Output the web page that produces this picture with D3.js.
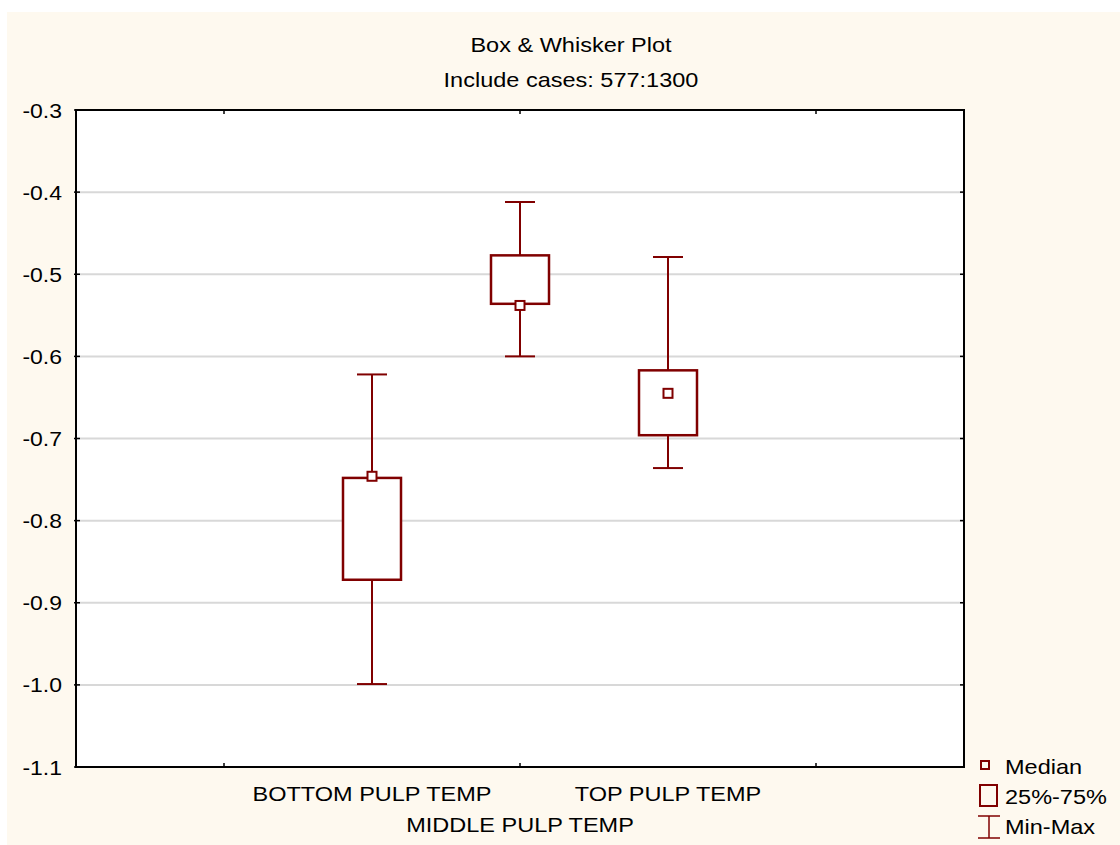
<!DOCTYPE html>
<html>
<head>
<meta charset="utf-8">
<script src="https://cdn.jsdelivr.net/npm/d3@7"></script>
<style>
  html, body { margin: 0; padding: 0; background: #ffffff; }
  svg { display: block; }
  text { font-family: "Liberation Sans", Arial, sans-serif; fill: #000; }
</style>
</head>
<body>
<script>
// Variables and their summary statistics
const categories = ["BOTTOM PULP TEMP", "MIDDLE PULP TEMP", "TOP PULP TEMP"];
const mins    = [-0.999, -0.600, -0.736];
const q1s     = [-0.872, -0.536, -0.696];
const medians = [-0.746, -0.538, -0.645];
const q3s     = [-0.748, -0.477, -0.617];
const maxs    = [-0.622, -0.412, -0.479];

const yTicks = [-0.3, -0.4, -0.5, -0.6, -0.7, -0.8, -0.9, -1.0, -1.1];
const legendItems = ["Median", "25%-75%", "Min-Max"];

const W = 1120, H = 845;
const plot = { left: 76, top: 110, right: 964, bottom: 767 };
const color = "#800000";
const stretch = 1.12; // wide glyph rendering

const svg = d3.select("body").append("svg").attr("width", W).attr("height", H);

// helper: text drawn with a horizontal stretch around its anchor
function label(parent, x, y, str, size, anchor) {
  return parent.append("text")
    .attr("transform", `translate(${x},${y}) scale(${stretch},1)`)
    .attr("text-anchor", anchor || "start")
    .attr("font-size", size)
    .text(str);
}

// panel background
svg.append("rect").attr("x", 7).attr("y", 12).attr("width", W - 7).attr("height", H - 12)
  .attr("fill", "#fef9ef");

const x = d3.scaleLinear().domain([0, 6]).range([plot.left, plot.right]);
const y = d3.scaleLinear().domain([-1.1, -0.3]).range([plot.bottom, plot.top]);

// plot area
svg.append("rect").attr("x", plot.left).attr("y", plot.top)
  .attr("width", plot.right - plot.left).attr("height", plot.bottom - plot.top)
  .attr("fill", "#fff");

// gridlines
svg.append("g").selectAll("line").data(yTicks.filter(t => t > -1.1 && t < -0.3)).join("line")
  .attr("x1", plot.left).attr("x2", plot.right)
  .attr("y1", d => y(d)).attr("y2", d => y(d))
  .attr("stroke", "#d8d8d8").attr("stroke-width", 2);

// y tick marks (left outer/inner, right inner)
const gy = svg.append("g");
gy.selectAll("line.l").data(yTicks).join("line").attr("class", "l")
  .attr("x1", plot.left - 2).attr("x2", plot.left + 4)
  .attr("y1", d => y(d)).attr("y2", d => y(d))
  .attr("stroke", "#000").attr("stroke-width", 1.5);
gy.selectAll("line.r").data(yTicks).join("line").attr("class", "r")
  .attr("x1", plot.right - 4).attr("x2", plot.right)
  .attr("y1", d => y(d)).attr("y2", d => y(d))
  .attr("stroke", "#000").attr("stroke-width", 1.5);
yTicks.forEach(t => {
  label(gy, 62, y(t) + 7.5, t.toFixed(1), 20.5, "end");
});

// x ticks (inner, top and bottom)
const xTicks = [1, 3, 5];
svg.append("g").selectAll("line").data(xTicks).join("line")
  .attr("x1", d => x(d)).attr("x2", d => x(d))
  .attr("y1", plot.bottom - 4).attr("y2", plot.bottom)
  .attr("stroke", "#000").attr("stroke-width", 1.5);
svg.append("g").selectAll("line").data(xTicks).join("line")
  .attr("x1", d => x(d)).attr("x2", d => x(d))
  .attr("y1", plot.top).attr("y2", plot.top + 4)
  .attr("stroke", "#000").attr("stroke-width", 1.5);

// frame
svg.append("rect").attr("x", plot.left).attr("y", plot.top)
  .attr("width", plot.right - plot.left).attr("height", plot.bottom - plot.top)
  .attr("fill", "none").attr("stroke", "#000").attr("stroke-width", 2);

// boxes
const data = categories.map((c, i) => ({
  name: c, pos: i + 2, min: mins[i], q1: q1s[i], med: medians[i], q3: q3s[i], max: maxs[i]
}));
const boxW = 58, capW = 30, medS = 9;
const g = svg.append("g").selectAll("g").data(data).join("g");
g.append("line").attr("x1", d => x(d.pos)).attr("x2", d => x(d.pos))
  .attr("y1", d => y(d.max)).attr("y2", d => y(d.min))
  .attr("stroke", color).attr("stroke-width", 2);
g.append("line").attr("x1", d => x(d.pos) - capW / 2).attr("x2", d => x(d.pos) + capW / 2)
  .attr("y1", d => y(d.max)).attr("y2", d => y(d.max))
  .attr("stroke", color).attr("stroke-width", 2);
g.append("line").attr("x1", d => x(d.pos) - capW / 2).attr("x2", d => x(d.pos) + capW / 2)
  .attr("y1", d => y(d.min)).attr("y2", d => y(d.min))
  .attr("stroke", color).attr("stroke-width", 2);
g.append("rect").attr("x", d => x(d.pos) - boxW / 2).attr("y", d => y(d.q3))
  .attr("width", boxW).attr("height", d => y(d.q1) - y(d.q3))
  .attr("fill", "#fff").attr("stroke", color).attr("stroke-width", 2.5);
g.append("rect").attr("x", d => x(d.pos) - medS / 2).attr("y", d => y(d.med) - medS / 2)
  .attr("width", medS).attr("height", medS)
  .attr("fill", "#fff").attr("stroke", color).attr("stroke-width", 2);

// category labels (staggered rows)
const gx = svg.append("g");
data.forEach((d, i) => {
  label(gx, x(d.pos), i % 2 === 0 ? 801 : 832, d.name, 21, "middle");
});

// title
label(svg, 571, 52, "Box & Whisker Plot", 21, "middle");
label(svg, 571, 87, "Include cases: 577:1300", 21, "middle");

// legend
const lg = svg.append("g");
lg.append("rect").attr("x", 981).attr("y", 761).attr("width", 8).attr("height", 8)
  .attr("fill", "none").attr("stroke", color).attr("stroke-width", 2);
lg.append("rect").attr("x", 980).attr("y", 785).attr("width", 17).attr("height", 21)
  .attr("fill", "none").attr("stroke", color).attr("stroke-width", 2);
lg.append("line").attr("x1", 989).attr("x2", 989).attr("y1", 816).attr("y2", 838)
  .attr("stroke", color).attr("stroke-width", 1.5);
lg.append("line").attr("x1", 978).attr("x2", 1000).attr("y1", 816).attr("y2", 816)
  .attr("stroke", color).attr("stroke-width", 1.5);
lg.append("line").attr("x1", 978).attr("x2", 1000).attr("y1", 838).attr("y2", 838)
  .attr("stroke", color).attr("stroke-width", 1.5);
legendItems.forEach((d, i) => {
  label(lg, 1005, 774 + i * 30, d, 21, "start");
});
</script>
</body>
</html>
